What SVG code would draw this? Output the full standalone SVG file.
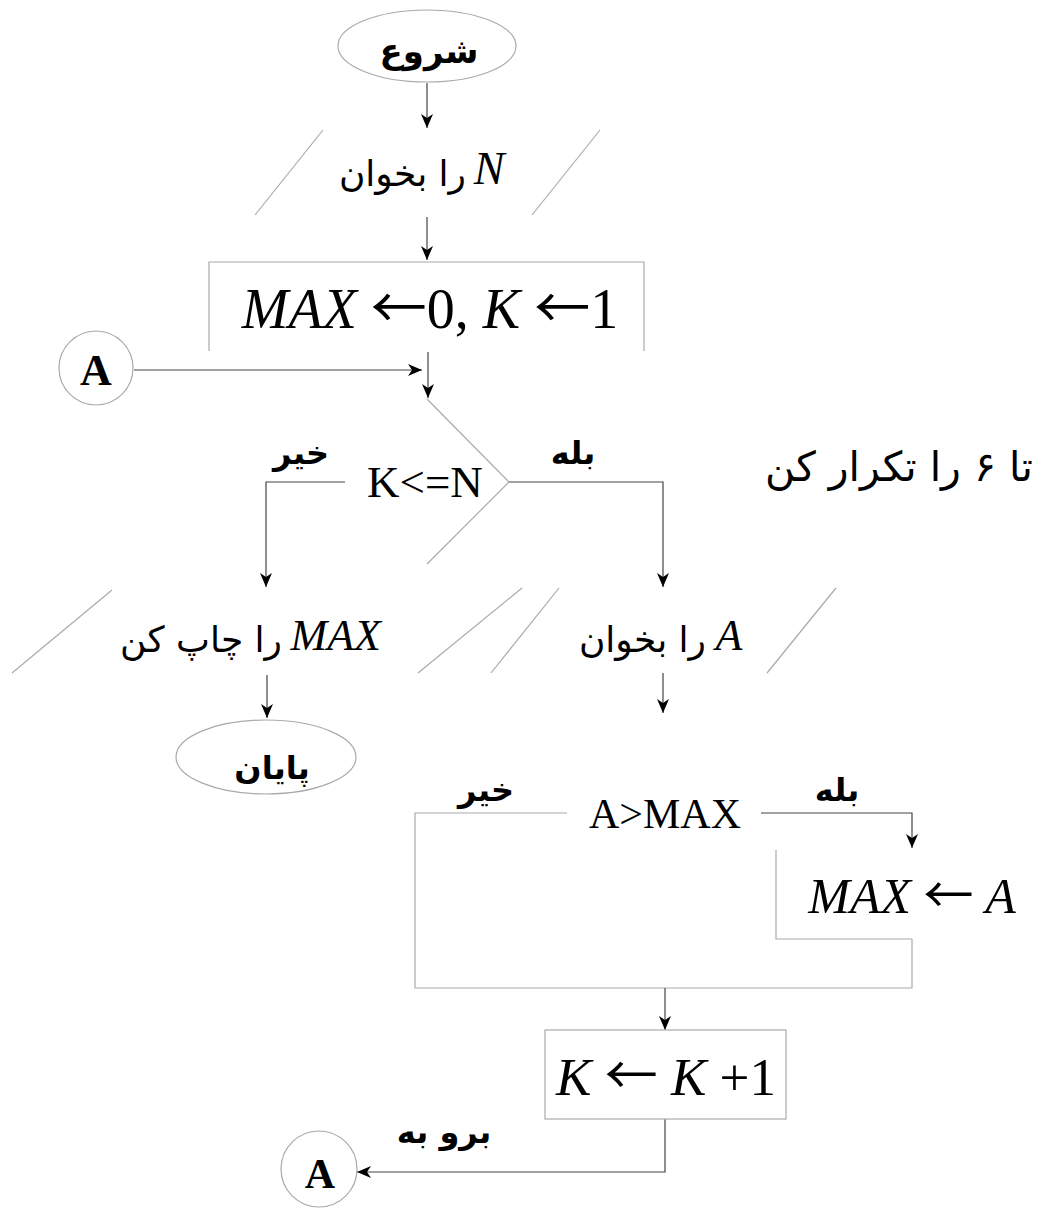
<svg xmlns="http://www.w3.org/2000/svg" width="1040" height="1209" viewBox="0 0 1040 1209">
<style>
.shape{fill:none;stroke:#aaa;stroke-width:1.2}
.conn{fill:none;stroke:#444;stroke-width:1.2}
.fa{font-family:"DejaVu Sans","Noto Sans",sans-serif;fill:#000}
.fab{font-family:"DejaVu Sans","Noto Sans",sans-serif;font-weight:bold;fill:#000}
.m{font-family:"Liberation Serif","Times New Roman",serif;font-style:italic;fill:#000}
.r{font-family:"Liberation Serif","Times New Roman",serif;fill:#000}
.b{font-family:"Liberation Serif","Times New Roman",serif;font-weight:bold;fill:#000}
.ar{font-family:"Noto Sans CJK SC","DejaVu Sans",sans-serif;font-style:normal;font-weight:normal}
.up{font-style:normal}
</style>
<defs>
<marker id="ah" markerUnits="userSpaceOnUse" markerWidth="16" markerHeight="14" viewBox="-1 -7 16 14" refX="14" refY="0" orient="auto">
<path d="M0,-6 L14,0 L0,6 L4,0 z" fill="#000"/>
</marker>
</defs>
<rect width="1040" height="1209" fill="#fff"/>
<g id="connectors">
<line class="conn" x1="427" y1="83" x2="427" y2="128" marker-end="url(#ah)"/>
<line class="conn" x1="427" y1="217" x2="427" y2="260" marker-end="url(#ah)"/>
<line class="conn" x1="428" y1="352" x2="428" y2="398" marker-end="url(#ah)"/>
<line class="conn" x1="134" y1="370" x2="422" y2="370" marker-end="url(#ah)"/>
<polyline class="conn" points="509,482 663,482 663,587" marker-end="url(#ah)"/>
<polyline class="conn" points="345,482 266,482 266,587" marker-end="url(#ah)"/>
<line class="conn" x1="267" y1="675" x2="267" y2="718" marker-end="url(#ah)"/>
<line class="conn" x1="663" y1="673" x2="663" y2="713" marker-end="url(#ah)"/>
<polyline class="conn" points="761,813 912,813 912,848" marker-end="url(#ah)"/>
<polyline class="shape" points="567,813 415,813 415,988 912,988 912,939"/>
<line class="conn" x1="665" y1="988" x2="665" y2="1030" marker-end="url(#ah)"/>
<polyline class="conn" points="665,1119 665,1172 357,1172" marker-end="url(#ah)"/>
</g>
<g id="start">
<ellipse class="shape" cx="427" cy="46" rx="89" ry="36"/>
<text class="fab" x="429" y="63" font-size="34" text-anchor="middle">شروع</text>
</g>
<g id="readN">
<line class="shape" x1="255" y1="215" x2="323" y2="130"/>
<line class="shape" x1="532" y1="215" x2="600" y2="130"/>
<text class="fa" x="466" y="186" font-size="36" text-anchor="end">را بخوان</text>
<text class="m" x="489" y="184" font-size="46" text-anchor="middle">N</text>
</g>
<g id="init">
<polyline class="shape" points="209,351 209,262 644,262 644,351"/>
<text class="m" x="430" y="328" font-size="56" text-anchor="middle">MAX <tspan class="ar">←</tspan><tspan class="up">0,</tspan> K <tspan class="ar">←</tspan><tspan class="up">1</tspan></text>
</g>
<g id="connA1">
<circle class="shape" cx="96" cy="368" r="37"/>
<text class="b" x="96" y="385" font-size="44" text-anchor="middle">A</text>
</g>
<g id="cond1">
<polyline class="shape" points="427,399 509,482 427,564"/>
<text class="r" x="425" y="497" font-size="45" text-anchor="middle">K&lt;=N</text>
<text class="fab" x="301" y="464" font-size="32" text-anchor="middle">خیر</text>
<text class="fab" x="573" y="464" font-size="32" text-anchor="middle">بله</text>
</g>
<g id="note">
<text class="fa" x="899" y="481" font-size="41" text-anchor="middle">تا ۶ را تکرار کن</text>
</g>
<g id="printMax">
<line class="shape" x1="12" y1="673" x2="112" y2="590"/>
<line class="shape" x1="418" y1="673" x2="522" y2="588"/>
<text class="fa" x="282" y="652" font-size="36" text-anchor="end">را چاپ کن</text>
<text class="m" x="381" y="650" font-size="44" text-anchor="end">MAX</text>
</g>
<g id="readA">
<line class="shape" x1="491" y1="673" x2="559" y2="588"/>
<line class="shape" x1="767" y1="673" x2="836" y2="588"/>
<text class="fa" x="706" y="652" font-size="36" text-anchor="end">را بخوان</text>
<text class="m" x="729" y="650" font-size="44" text-anchor="middle">A</text>
</g>
<g id="end">
<ellipse class="shape" cx="266" cy="757" rx="90" ry="37"/>
<text class="fab" x="272" y="779" font-size="32" text-anchor="middle">پایان</text>
</g>
<g id="cond2">
<text class="r" x="665" y="828" font-size="42" text-anchor="middle">A&gt;MAX</text>
<text class="fab" x="486" y="801" font-size="32" text-anchor="middle">خیر</text>
<text class="fab" x="837" y="801" font-size="32" text-anchor="middle">بله</text>
</g>
<g id="setMax">
<polyline class="shape" points="776,850 776,939 912,939"/>
<text class="m" x="912" y="913" font-size="50" text-anchor="middle">MAX <tspan class="ar">←</tspan> A</text>
</g>
<g id="incK">
<rect class="shape" x="545" y="1030" width="241" height="89"/>
<text class="m" x="666" y="1095" font-size="53" text-anchor="middle">K <tspan class="ar">←</tspan> K <tspan class="up">+1</tspan></text>
</g>
<g id="connA2">
<circle class="shape" cx="319" cy="1169" r="38"/>
<text class="b" x="320" y="1188" font-size="42" text-anchor="middle">A</text>
<text class="fab" x="444" y="1143" font-size="32" text-anchor="middle">برو به</text>
</g>
</svg>
